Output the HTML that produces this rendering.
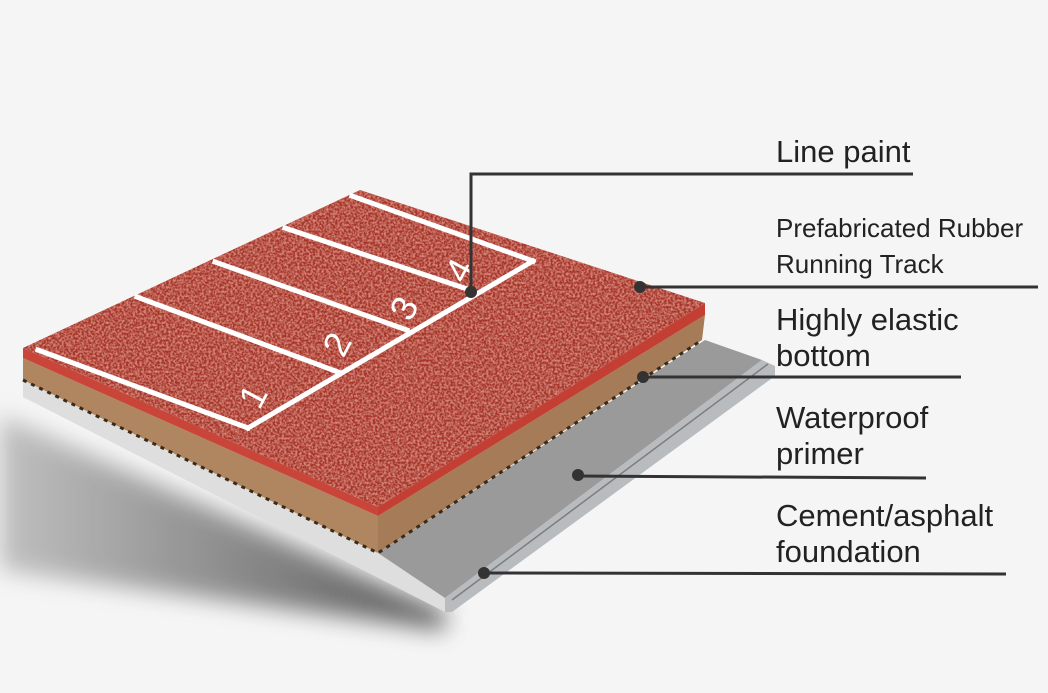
<!DOCTYPE html>
<html><head><meta charset="utf-8"><style>
html,body{margin:0;padding:0;background:#f5f5f5;}
svg{display:block;}
text{font-family:"Liberation Sans",Arial,sans-serif;fill:#222;}
</style></head><body>
<svg width="1048" height="693" viewBox="0 0 1048 693" xmlns="http://www.w3.org/2000/svg">
<defs>
<filter id="blur" x="-20%" y="-20%" width="140%" height="140%"><feGaussianBlur stdDeviation="12"/></filter>
<filter id="tex" x="0" y="0" width="100%" height="100%">
<feTurbulence type="fractalNoise" baseFrequency="0.45" numOctaves="2" seed="3" result="n"/>
<feColorMatrix in="n" type="matrix" values="0 0 0 0 0.88  0 0 0 0 0.38  0 0 0 0 0.30  0 0 0 1.6 -0.6" result="c"/>
<feComposite in="c" in2="SourceGraphic" operator="in" result="m"/>
<feMerge><feMergeNode in="SourceGraphic"/><feMergeNode in="m"/></feMerge>
</filter>
<linearGradient id="sh" x1="0" y1="0" x2="1" y2="0">
<stop offset="0" stop-color="#bdbdbd"/><stop offset="1" stop-color="#555"/>
</linearGradient>
</defs>
<polygon points="0,415 445,612 445,630 0,570" fill="url(#sh)" filter="url(#blur)" opacity="0.95"/>
<polygon points="23,380 378,553 445,598 445,612 23,397" fill="#dedede"/>
<polygon points="378,553 705,340 762,360 445,598" fill="#9a9a9a"/>
<polygon points="445,598 762,360 775,366 775,376 452,612 445,612" fill="#b9bcbf"/>
<line x1="452" y1="600" x2="768" y2="364" stroke="#7d7d7d" stroke-width="1.5"/>
<polygon points="23,358 378,516 378,553 23,380" fill="#b08660"/>
<polygon points="378,516 705,315 702,340 378,553" fill="#a57c57"/>
<polyline points="23,380 378,553 702,340" fill="none" stroke="#3a2a1a" stroke-width="3" stroke-dasharray="4 5"/>
<polygon points="23,348 378,507 378,516 23,358" fill="#c9453a"/>
<polygon points="378,507 705,303 705,315 378,516" fill="#c43f33"/>
<polygon points="23,348 360,190 705,303 378,507" fill="#a8342a" filter="url(#tex)"/>
<g stroke="#fff" stroke-width="5" fill="none" stroke-linecap="square">
<line x1="38" y1="350" x2="248" y2="428"/>
<line x1="137" y1="297" x2="338" y2="372"/>
<line x1="215" y1="262" x2="407" y2="330"/>
<line x1="285" y1="228" x2="470" y2="290"/>
<line x1="352" y1="196" x2="533" y2="261"/>
<line x1="248" y1="428" x2="533" y2="261"/>
</g>
<g font-size="36">
<text transform="translate(264,402) rotate(-62)" text-anchor="middle" style="fill:#fff">1</text>
<text transform="translate(348,350) rotate(-62)" text-anchor="middle" style="fill:#fff">2</text>
<text transform="translate(415,314) rotate(-62)" text-anchor="middle" style="fill:#fff">3</text>
<text transform="translate(470,276) rotate(-62)" text-anchor="middle" style="fill:#fff">4</text>
</g>
<g stroke="#333" stroke-width="3" fill="none">
<polyline points="471,292 471,174 913,174"/>
<line x1="640" y1="287" x2="1038" y2="287"/>
<line x1="643" y1="377" x2="961" y2="377"/>
<line x1="578" y1="476" x2="926" y2="478"/>
<line x1="484" y1="573" x2="1006" y2="574"/>
</g>
<g fill="#333">
<circle cx="471" cy="292" r="6"/>
<circle cx="640" cy="287" r="6"/>
<circle cx="643" cy="377" r="6"/>
<circle cx="578" cy="475" r="6"/>
<circle cx="484" cy="573" r="6"/>
</g>
<text x="776" y="162" font-size="31">Line paint</text>
<text x="776" y="237" font-size="26">Prefabricated Rubber</text>
<text x="776" y="273" font-size="26">Running Track</text>
<text x="776" y="330" font-size="31">Highly elastic</text>
<text x="776" y="366" font-size="31">bottom</text>
<text x="776" y="428" font-size="31">Waterproof</text>
<text x="776" y="464" font-size="31">primer</text>
<text x="776" y="526" font-size="31">Cement/asphalt</text>
<text x="776" y="562" font-size="31">foundation</text>
</svg>
</body></html>
